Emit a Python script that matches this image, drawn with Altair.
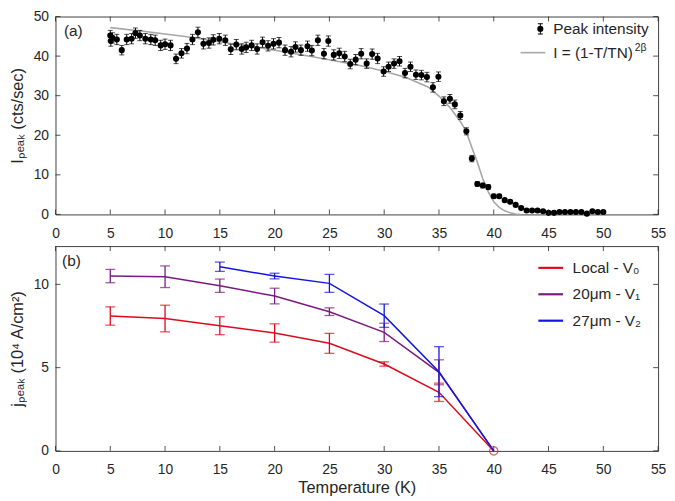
import altair as alt
import pandas as pd

# (a) peak intensity vs temperature
temp_a = [5.0, 5.05, 5.2, 5.6, 6.05, 6.5, 6.95, 7.3, 7.7, 8.2, 8.7, 9.1, 9.6, 10.0, 10.5,
          11.0, 11.5, 12.0, 12.5, 13.0, 13.5, 14.0, 14.4, 14.95, 15.5, 16.0, 16.5, 17.0,
          17.4, 17.9, 18.4, 18.9, 19.4, 19.9, 20.4, 20.95, 21.5, 21.9, 22.4, 23.0, 23.4,
          23.95, 24.5, 24.9, 25.4, 25.9, 26.4, 26.9, 27.4, 27.9, 28.4, 28.9, 29.4, 29.95,
          30.4, 30.9, 31.4, 31.9, 32.4, 32.9, 33.4, 33.9, 34.45, 34.95, 35.45, 36.0, 36.45,
          36.95, 37.5, 38.0, 38.5, 39.0, 39.5, 40.0, 40.5, 41.0, 41.5, 42.0, 42.5, 43.0,
          43.5, 44.0, 44.5, 45.0, 45.5, 46.0, 46.5, 47.0, 47.5, 48.0, 48.5, 49.0, 49.5, 50.0]
peak = [45.2, 43.8, 44.6, 44.2, 41.5, 44.2, 44.4, 45.8, 45.2, 44.4, 44.2, 44.0, 42.7, 43.0, 42.7,
        39.3, 40.7, 41.9, 44.2, 46.0, 43.1, 43.3, 44.1, 44.4, 44.0, 41.7, 42.9, 41.8,
        42.2, 42.7, 41.8, 43.5, 42.6, 43.1, 43.4, 41.5, 41.1, 42.3, 41.5, 42.5, 41.4,
        44.0, 40.6, 43.8, 40.3, 40.7, 39.9, 38.0, 39.1, 40.6, 38.1, 40.5, 39.4, 36.1,
        37.3, 38.1, 38.7, 35.7, 37.3, 35.3, 35.2, 34.7, 32.1, 34.8, 28.6, 29.2, 27.8,
        25.0, 21.0, 14.1, 7.7, 7.3, 6.9, 4.6, 4.6, 3.6, 3.2, 2.4, 1.6, 1.0,
        1.0, 1.0, 0.8, 0.4, 0.4, 0.6, 0.6, 0.6, 0.6, 0.6, 0.2, 0.8, 0.6, 0.6]
peak_err = [1.3, 1.3, 1.3, 1.3, 1.2, 1.3, 1.3, 1.3, 1.3, 1.3, 1.3, 1.3, 1.3, 1.3, 1.3,
            1.2, 1.2, 1.3, 1.3, 1.3, 1.3, 1.3, 1.3, 1.3, 1.3, 1.3, 1.3, 1.3,
            1.3, 1.3, 1.3, 1.3, 1.3, 1.3, 1.3, 1.3, 1.3, 1.3, 1.3, 1.3, 1.3,
            1.3, 1.3, 1.3, 1.3, 1.3, 1.3, 1.2, 1.3, 1.3, 1.2, 1.3, 1.3, 1.2,
            1.2, 1.2, 1.2, 1.2, 1.2, 1.2, 1.2, 1.2, 1.2, 1.2, 1.1, 1.1, 1.1,
            1.0, 0.9, 0.8, 0.6, 0.6, 0.6, 0.5, 0.5, 0.4, 0.4, 0.4, 0.3, 0.3,
            0.3, 0.3, 0.3, 0.2, 0.2, 0.2, 0.2, 0.2, 0.2, 0.2, 0.2, 0.2, 0.2, 0.2]

fit_t = [5, 8, 12, 16, 20, 24, 28, 30, 32, 34, 35, 36, 37, 37.5, 38, 38.5, 39, 39.5,
         40, 40.5, 41, 41.5, 42, 42.5]
fit_i = [47.2, 46.3, 44.9, 43.2, 41.5, 39.6, 37.5, 36.2, 34.6, 32.2, 29.9, 27.0, 23.3,
         20.8, 16.9, 13.2, 9.0, 5.7, 3.2, 1.8, 0.9, 0.4, 0.1, 0.0]

# (b) peak current density
temp_b = [5, 10, 15, 20, 25, 30, 35, 40]
local_v0 = [8.1, 7.95, 7.52, 7.08, 6.46, 5.22, 3.52, 0]
local_err = [0.55, 0.8, 0.54, 0.55, 0.6, 0.13, 0.55, 0]
um20_v1 = [10.5, 10.46, 9.92, 9.3, 8.36, 7.12, 4.72, 0]
um20_err = [0.4, 0.65, 0.4, 0.47, 0.23, 0.55, 0.75, 0]
temp_v2 = [15, 20, 25, 30, 35, 40]
um27_v2 = [11.06, 10.5, 10.06, 8.12, 4.76, 0]
um27_err = [0.28, 0.17, 0.54, 0.7, 1.5, 0]

series_names = ['Local - V₀', '20μm - V₁', '27μm - V₂']
series_colors = ['#dd0a1e', '#7a1a80', '#1414e0']

x_ticks = list(range(0, 56, 5))
ya_ticks = [0, 10, 20, 30, 40, 50]
yb_ticks = [0, 5, 10]

FONT = 'Liberation Sans'
INK = '#262626'
W = 609
HA, HB = 200, 207

df_a = pd.DataFrame({'x': temp_a, 'y': peak, 'e': peak_err})
df_a['lo'] = df_a['y'] - df_a['e']
df_a['hi'] = df_a['y'] + df_a['e']
df_fit = pd.DataFrame({'x': fit_t, 'y': fit_i})

rows = []
for name, ts, vs, es in [(series_names[0], temp_b, local_v0, local_err),
                         (series_names[1], temp_b, um20_v1, um20_err),
                         (series_names[2], temp_v2, um27_v2, um27_err)]:
    for t, v, e in zip(ts, vs, es):
        rows.append({'x': t, 'y': v, 'lo': v - e, 'hi': v + e, 'series': name})
df_b = pd.DataFrame(rows)
df_b_err = df_b[df_b['hi'] > df_b['lo']]

x_scale = alt.Scale(domain=[0, 55], nice=False)
ya_scale = alt.Scale(domain=[0, 50], nice=False)
yb_scale = alt.Scale(domain=[0, 12.3], nice=False)
color = alt.Color('series:N', scale=alt.Scale(domain=series_names, range=series_colors), legend=None)

ax_x_top = alt.Axis(values=x_ticks, title=None, labelPadding=12, labelFlush=False)
ax_x_bot = alt.Axis(values=x_ticks, title='Temperature (K)', labelPadding=12, labelFlush=False,
                    titlePadding=3.5)
ax_ya = alt.Axis(values=ya_ticks, title='Iₚₑₐₖ (cts/sec)', labelPadding=7, titlePadding=8)
ax_yb = alt.Axis(values=yb_ticks, title='jₚₑₐₖ (10⁴ A/cm²)', labelPadding=7, titlePadding=8)


def X(f, ax):
    return alt.X(f, type='quantitative', scale=x_scale, axis=ax)


def inward_ticks(yscale, yvals, ax_x, ax_y, h):
    tx = pd.DataFrame({'t': x_ticks})
    ty = pd.DataFrame({'t': yvals})
    y_any = alt.Y('t:Q', scale=yscale, axis=ax_y)
    return [
        alt.Chart(tx).mark_rule(color=INK, strokeWidth=0.8).encode(
            x=X('t', ax_x), y=alt.value(0), y2=alt.value(5)),
        alt.Chart(tx).mark_rule(color=INK, strokeWidth=0.8).encode(
            x=X('t', ax_x), y=alt.value(h - 5), y2=alt.value(h)),
        alt.Chart(ty).mark_rule(color=INK, strokeWidth=0.8).encode(
            y=y_any, x=alt.value(0), x2=alt.value(5)),
        alt.Chart(ty).mark_rule(color=INK, strokeWidth=0.8).encode(
            y=y_any, x=alt.value(W - 5), x2=alt.value(W)),
    ]


def label(txt, x, y, size=15.5, col=INK, align='left'):
    return alt.Chart(pd.DataFrame({'t': [txt]})).mark_text(
        font=FONT, fontSize=size, color=col, align=align, baseline='middle').encode(
        text='t:N', x=alt.value(x), y=alt.value(y))


# panel (a)
ya = lambda f: alt.Y(f, type='quantitative', scale=ya_scale, axis=ax_ya)
fit_line = alt.Chart(df_fit).mark_line(color='#a6a6a6', strokeWidth=1.6).encode(
    x=X('x', ax_x_top), y=ya('y'))
err_a = alt.Chart(df_a).mark_rule(color='black', strokeWidth=1).encode(
    x=X('x', ax_x_top), y=ya('lo'), y2='hi')
cap_lo = alt.Chart(df_a).mark_tick(color='black', size=5, thickness=1, orient='horizontal').encode(
    x=X('x', ax_x_top), y=ya('lo'))
cap_hi = alt.Chart(df_a).mark_tick(color='black', size=5, thickness=1, orient='horizontal').encode(
    x=X('x', ax_x_top), y=ya('hi'))
pts = alt.Chart(df_a).mark_circle(color='black', size=38, opacity=1).encode(
    x=X('x', ax_x_top), y=ya('y'))

ly1, ly2 = 12.5, 36.5
leg_a = [
    alt.Chart(pd.DataFrame({'t': [0]})).mark_rule(color='black').encode(
        x=alt.value(490), y=alt.value(ly1 - 5.2), y2=alt.value(ly1 + 5.2)),
    alt.Chart(pd.DataFrame({'t': [0]})).mark_circle(color='black', size=38, opacity=1).encode(
        x=alt.value(490), y=alt.value(ly1)),
    alt.Chart(pd.DataFrame({'t': [0]})).mark_rule(color='black').encode(
        x=alt.value(487.5), x2=alt.value(492.5), y=alt.value(ly1 - 5.2)),
    alt.Chart(pd.DataFrame({'t': [0]})).mark_rule(color='black').encode(
        x=alt.value(487.5), x2=alt.value(492.5), y=alt.value(ly1 + 5.2)),
    label('Peak intensity', 503, ly1),
    alt.Chart(pd.DataFrame({'t': [0]})).mark_rule(color='#a6a6a6', strokeWidth=1.6).encode(
        x=alt.value(470), x2=alt.value(495), y=alt.value(ly2)),
    label('I = (1-T/TN)', 503, ly2),
    label('2β', 585.5, ly2 - 4.3, size=10.5),
]

panel_a = alt.layer(
    fit_line, err_a, cap_lo, cap_hi, pts,
    *inward_ticks(ya_scale, ya_ticks, ax_x_top, ax_ya, HA),
    *leg_a,
    label('(a)', 8.5, 15, size=15.5),
).properties(width=W, height=HA)

# panel (b)
yb = lambda f: alt.Y(f, type='quantitative', scale=yb_scale, axis=ax_yb)
lines_b = alt.Chart(df_b).mark_line(strokeWidth=1.5).encode(
    x=X('x', ax_x_bot), y=yb('y'), color=color, detail='series:N')
err_b = alt.Chart(df_b_err).mark_rule(strokeWidth=1.3).encode(
    x=X('x', ax_x_bot), y=yb('lo'), y2='hi', color=color)
capb_lo = alt.Chart(df_b_err).mark_tick(size=10, thickness=1.3, orient='horizontal').encode(
    x=X('x', ax_x_bot), y=yb('lo'), color=color)
capb_hi = alt.Chart(df_b_err).mark_tick(size=10, thickness=1.3, orient='horizontal').encode(
    x=X('x', ax_x_bot), y=yb('hi'), color=color)
end_pt = alt.Chart(df_b[(df_b['x'] == 40) & (df_b['series'] == series_names[0])]).mark_point(
    shape='circle', color=series_colors[0], size=70, strokeWidth=1.2, filled=False).encode(
    x=X('x', ax_x_bot), y=yb('y'))

leg_b = []
for i, (nm, c) in enumerate(zip(series_names, series_colors)):
    yy = 22 + i * 26.7
    leg_b.append(alt.Chart(pd.DataFrame({'t': [0]})).mark_rule(color=c, strokeWidth=2.2).encode(
        x=alt.value(488), x2=alt.value(513), y=alt.value(yy)))
    leg_b.append(label(nm, 522.6, yy))

panel_b = alt.layer(
    lines_b, err_b, capb_lo, capb_hi, end_pt,
    *inward_ticks(yb_scale, yb_ticks, ax_x_bot, ax_yb, HB),
    *leg_b,
    label('(b)', 6.6, 15.4, size=15.5),
).properties(width=W, height=HB)

chart = alt.vconcat(panel_a, panel_b, spacing=32, bounds='flush').properties(
    padding={'left': 0, 'top': -2, 'right': 0, 'bottom': 0}
).configure_axis(
    labelFont=FONT, labelFontSize=14, labelColor=INK,
    titleFont=FONT, titleFontSize=16.5, titleColor=INK, titleFontWeight='normal',
    ticks=False, tickSize=0, domain=False, grid=False,
).configure_view(stroke='#404040', strokeWidth=1)

chart.save("out.html", embed_options={"renderer": "svg", "actions": False})
